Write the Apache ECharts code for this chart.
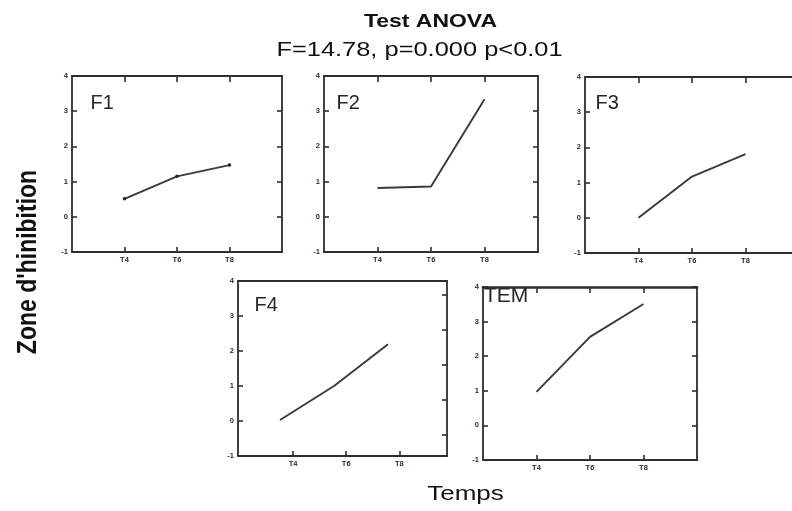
<!DOCTYPE html>
<html><head><meta charset="utf-8">
<script src="https://cdn.jsdelivr.net/npm/echarts@6/dist/echarts.min.js"></script>
<style>html,body{margin:0;padding:0;background:#fff}#c{width:792px;height:511px}</style>
</head><body><div id="c"></div>
<script>
// ---- data ----
const timeLabels = ['T4', 'T6', 'T8'];
const timePos = [1, 2, 3];
const yTicks = [-1, 0, 1, 2, 3, 4];
const f1 = [0.51, 1.15, 1.47];
const f2 = [0.82, 0.86, 3.34];
const f3 = [0.00, 1.17, 1.81];
const f4 = [0.03, 1.00, 2.19];
const tem = [0.97, 2.56, 3.51];
const panelNames = ['F1', 'F2', 'F3', 'F4', 'TEM'];
const panelValues = [f1, f2, f3, f4, tem];
const titleText = 'Test ANOVA';
const subTitleText = 'F=14.78, p=0.000 p<0.01';
const xTitle = 'Temps';
const yTitle = "Zone d'hinibition";

// ---- layout / style ----
const AX = '#2e2e2e';
const LBL = '#1f2347';
const FONT = 'Liberation Sans, Arial, sans-serif';
const layout = [
  {grid: {left: 72, top: 76, width: 210, height: 176}, label: [90.5, 103.5, 20], marker: true},
  {grid: {left: 324, top: 76, width: 214, height: 176}, label: [336.5, 103.5, 20]},
  {grid: {left: 585, top: 77, width: 214, height: 176}, label: [595.5, 103.5, 20]},
  {grid: {left: 238, top: 281, width: 209, height: 175}, label: [254.5, 305.5, 20], shifted: true},
  {grid: {left: 483, top: 287, width: 214, height: 173}, label: [484, 296, 21], topWidth: 2.6}
];

const grids = [], xAxes = [], yAxes = [], series = [], graphics = [];
const tickStyle = {color: AX, width: 1.6};
const lbl = {fontSize: 7.5, fontWeight: 'bold', color: LBL, fontFamily: FONT};
const line = w => ({show: true, onZero: false, lineStyle: {color: AX, width: w || 1.8}});

layout.forEach((L, g) => {
  grids.push(Object.assign({containLabel: false, outerBoundsMode: 'none'}, L.grid));
  // bottom axis with labels
  xAxes.push({
    gridIndex: g, type: 'value', position: 'bottom',
    min: L.shifted ? -0.04 : 0, max: L.shifted ? 3.9 : 4,
    axisLine: line(), splitLine: {show: false},
    axisTick: {show: true, inside: true, length: 5, customValues: timePos, lineStyle: tickStyle},
    axisLabel: Object.assign({show: true, margin: 4, customValues: timePos,
      formatter: v => timeLabels[timePos.indexOf(v)] || ''}, lbl)
  });
  // top frame axis
  xAxes.push({
    gridIndex: g, type: 'value', position: 'top', min: 0, max: 4,
    axisLine: line(L.topWidth), splitLine: {show: false},
    axisTick: {show: !L.shifted, inside: true, length: 6, customValues: timePos, lineStyle: tickStyle},
    axisLabel: {show: false}
  });
  let dataX = xAxes.length - 2;
  if (L.shifted) {
    xAxes.push({gridIndex: g, type: 'value', show: false, min: 0.222, max: 4.092,
      splitLine: {show: false}});
    dataX = xAxes.length - 1;
  }
  yAxes.push({
    gridIndex: g, type: 'value', position: 'left', min: -1, max: 4, interval: 1,
    axisLine: line(), splitLine: {show: false},
    axisTick: {show: true, inside: true, length: 5, lineStyle: tickStyle},
    axisLabel: Object.assign({show: true, margin: 4}, lbl)
  });
  const dataY = yAxes.length - 1;
  yAxes.push({
    gridIndex: g, type: 'value', position: 'right',
    min: L.shifted ? -0.6 : -1, max: L.shifted ? 4.4 : 4,
    axisLine: line(), splitLine: {show: false},
    axisTick: {show: true, inside: true, length: 5,
      customValues: L.shifted ? [0, 1, 2, 3, 4] : yTicks, lineStyle: tickStyle},
    axisLabel: {show: false}
  });
  series.push({
    type: 'line', xAxisIndex: dataX, yAxisIndex: dataY,
    data: timePos.map((x, i) => [x, panelValues[g][i]]),
    showSymbol: !!L.marker, symbol: 'circle', symbolSize: 3.5,
    itemStyle: {color: '#222'},
    lineStyle: {color: '#3a3a3a', width: 1.9},
    silent: true, animation: false
  });
  graphics.push({
    type: 'text', x: L.label[0], y: L.label[1], silent: true,
    style: {text: panelNames[g], fontSize: L.label[2], fontFamily: FONT, fill: '#2a2622',
      textVerticalAlign: 'middle', verticalAlign: 'middle', textAlign: 'left', align: 'left'}
  });
});

graphics.push(
  {type: 'text', x: 430.5, y: 21.5, scaleX: 1.24, silent: true,
   style: {text: titleText, fontSize: 18.5, fontWeight: 'bold', fontFamily: FONT, fill: '#111',
     textAlign: 'center', align: 'center', textVerticalAlign: 'middle', verticalAlign: 'middle'}},
  {type: 'text', x: 419.5, y: 50.5, scaleX: 1.24, silent: true,
   style: {text: subTitleText, fontSize: 20.5, fontFamily: FONT, fill: '#111',
     textAlign: 'center', align: 'center', textVerticalAlign: 'middle', verticalAlign: 'middle'}},
  {type: 'text', x: 465.5, y: 494.5, scaleX: 1.24, silent: true,
   style: {text: xTitle, fontSize: 21, fontFamily: FONT, fill: '#111',
     textAlign: 'center', align: 'center', textVerticalAlign: 'middle', verticalAlign: 'middle'}},
  {type: 'text', x: 28, y: 262, rotation: Math.PI / 2, scaleY: 1.24, silent: true,
   style: {text: yTitle, fontSize: 23, fontWeight: 'bold', fontFamily: FONT, fill: '#111',
     textAlign: 'center', align: 'center', textVerticalAlign: 'middle', verticalAlign: 'middle'}}
);

const chart = echarts.init(document.getElementById('c'), null, {renderer: 'canvas'});
chart.setOption({
  backgroundColor: '#fff',
  animation: false,
  grid: grids,
  xAxis: xAxes,
  yAxis: yAxes,
  series: series,
  graphic: graphics
});
</script>
</body></html>
